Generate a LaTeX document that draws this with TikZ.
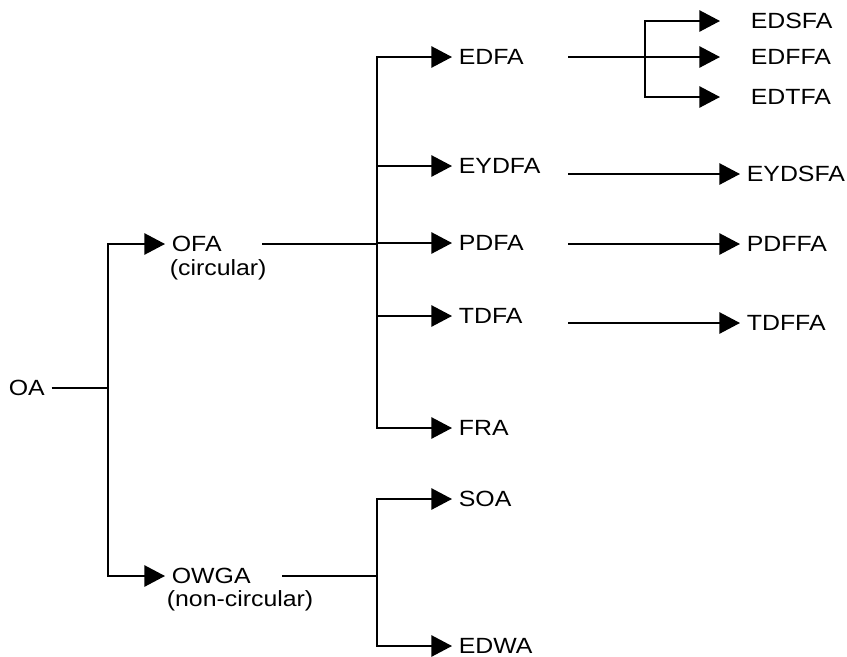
\documentclass[tikz,border=0pt]{standalone}
\usepackage{fontspec}
\setmainfont{Liberation Sans}[FakeStretch=1.13]
\usetikzlibrary{arrows.meta}

\tikzset{every picture/.style={line width=1.3pt}}
\tikzset{
	lbl/.style={anchor=west,inner xsep=4.5pt,inner ysep=0.75pt,font=\fontsize{16.5}{19.5}\selectfont},
	farlbl/.style={lbl,inner xsep=22.5pt},
	arr/.style={-{Triangle[length=15.5pt,width=16pt]}},
}

\begin{document}
\begin{tikzpicture}[x=0.75pt,y=0.75pt,yscale=-1,xscale=1]
		\useasboundingbox (0,0) rectangle (847,657);
		
		%Bus columns
		\coordinate (b1) at (108,0);
		\coordinate (b2) at (377,0);
		\coordinate (b3) at (645,0);
		\coordinate (c2) at (568,0);
		
		%Labels
		\draw (2,388) node [lbl] (oa) {OA};
		\draw (165,244) node [lbl] (ofa) {OFA};
		\draw (163,270) node [lbl] (ofanote) {(circular)};
		\draw (165,576) node [lbl] (owga) {OWGA};
		\draw (160,601) node [lbl] (owganote) {(non-circular)};
		\draw (452,57) node [lbl] (edfa) {EDFA};
		\draw (452,166) node [lbl] (eydfa) {EYDFA};
		\draw (452,243) node [lbl] (pdfa) {PDFA};
		\draw (452,316) node [lbl] (tdfa) {TDFA};
		\draw (452,428) node [lbl] (fra) {FRA};
		\draw (452,499) node [lbl] (soa) {SOA};
		\draw (452,646) node [lbl] (edwa) {EDWA};
		\draw (720,21) node [farlbl] (edsfa) {EDSFA};
		\draw (720,57) node [farlbl] (edffa) {EDFFA};
		\draw (720,97) node [farlbl] (edtfa) {EDTFA};
		\draw (740,174) node [lbl] (eydsfa) {EYDSFA};
		\draw (740,244) node [lbl] (pdffa) {PDFFA};
		\draw (740,323) node [lbl] (tdffa) {TDFFA};
		
		%OA branch
		\draw (oa.east) -- (oa.east -| b1);
		\draw [arr] (oa.east -| b1) |- (ofa.west);
		\draw [arr] (oa.east -| b1) |- (owga.west);
		
		%OFA branch
		\draw (ofa.east) ++(34,0) -- (ofa.west -| b2);
		\draw [arr] (ofa.west -| b2) |- (edfa.west);
		\draw [arr] (ofa.west -| b2) |- (fra.west);
		\draw [arr] (eydfa.west -| b2) -- (eydfa.west);
		\draw [arr] (pdfa.west -| b2) -- (pdfa.west);
		\draw [arr] (tdfa.west -| b2) -- (tdfa.west);
		
		%OWGA branch
		\draw (owga.east) ++(25,0) -- (owga.west -| b2);
		\draw [arr] (owga.west -| b2) |- (soa.west);
		\draw [arr] (owga.west -| b2) |- (edwa.west);
		
		%EDFA branch
		\draw [arr] (edfa.east -| c2) -- (edffa.west);
		\draw [arr] (edffa.west -| b3) |- (edsfa.west);
		\draw [arr] (edffa.west -| b3) |- (edtfa.west);
		
		%Single links
		\draw [arr] (eydsfa.west -| c2) -- (eydsfa.west);
		\draw [arr] (pdffa.west -| c2) -- (pdffa.west);
		\draw [arr] (tdffa.west -| c2) -- (tdffa.west);
		
	\end{tikzpicture}
\end{document}
